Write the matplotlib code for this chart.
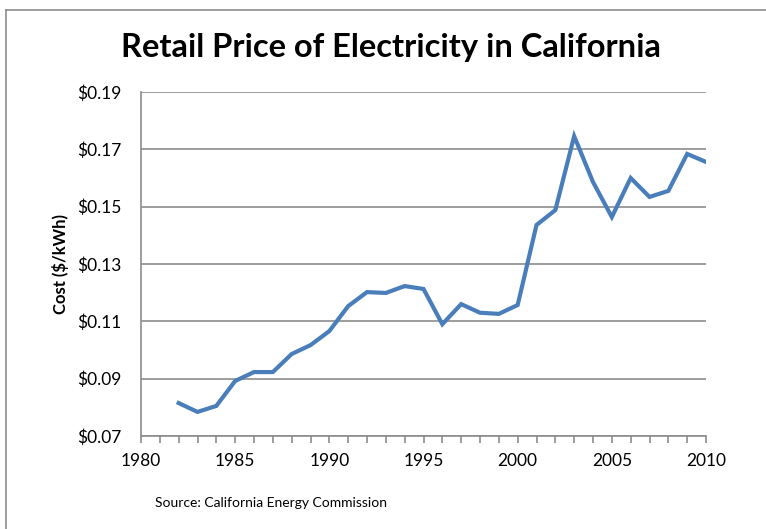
import matplotlib.pyplot as plt
from matplotlib.ticker import MultipleLocator, FuncFormatter
from matplotlib.lines import Line2D

years = list(range(1982, 2011))
price = [0.0815, 0.0784, 0.0805, 0.0892, 0.0923, 0.0923, 0.0986, 0.1017, 0.1066,
         0.1153, 0.1202, 0.1199, 0.1223, 0.1213, 0.1090, 0.1160, 0.1130, 0.1126,
         0.1157, 0.1436, 0.1488, 0.1746, 0.1586, 0.1464, 0.1600, 0.1534, 0.1555,
         0.1684, 0.1656]

plt.rcParams['font.family'] = ['Lato', 'DejaVu Sans']

fig = plt.figure(figsize=(7.66, 5.29), dpi=100)
ax = fig.add_axes([141 / 766, 1 - 436 / 529, 565 / 766, 344 / 529])

ax.plot(years, price, color='#4a7ebb', linewidth=3.0, solid_joinstyle='miter')

ax.set_xlim(1980, 2010)
ax.set_ylim(0.07, 0.19)
ax.set_yticks([0.07, 0.09, 0.11, 0.13, 0.15, 0.17, 0.19])
ax.yaxis.set_major_formatter(FuncFormatter(lambda v, p: f"${v:.2f}"))
ax.xaxis.set_major_locator(MultipleLocator(5))
ax.xaxis.set_minor_locator(MultipleLocator(1))
ax.grid(axis='y', color='#8c8c8c', linewidth=1.2)
ax.set_axisbelow(True)

for s in ['top', 'right']:
    ax.spines[s].set_visible(False)
for s in ['left', 'bottom']:
    ax.spines[s].set_color('#8c8c8c')
    ax.spines[s].set_linewidth(1.2)

ax.tick_params(axis='x', which='both', direction='out', color='#8c8c8c', length=5, width=1.2, labelsize=12.5, pad=7)
ax.tick_params(axis='y', length=0, labelsize=12.5, pad=14)

ax.set_ylabel('Cost ($/kWh)', fontsize=12, fontweight='bold', labelpad=6)

fig.text(391 / 766, 1 - 48 / 529, 'Retail Price of Electricity in California',
         ha='center', va='center', fontsize=23.5, fontweight='bold')
fig.text(155 / 766, 1 - 503 / 529, 'Source: California Energy Commission',
         ha='left', va='center', fontsize=10)

# outer chart frame (left and top edges only are visible)
fx, fy = 6 / 766, 1 - 10 / 529
fig.add_artist(Line2D([fx, fx], [0, fy], transform=fig.transFigure, color='#8c8c8c', linewidth=1.2))
fig.add_artist(Line2D([fx, 1], [fy, fy], transform=fig.transFigure, color='#8c8c8c', linewidth=1.2))

fig.savefig('out.png', dpi=100)
